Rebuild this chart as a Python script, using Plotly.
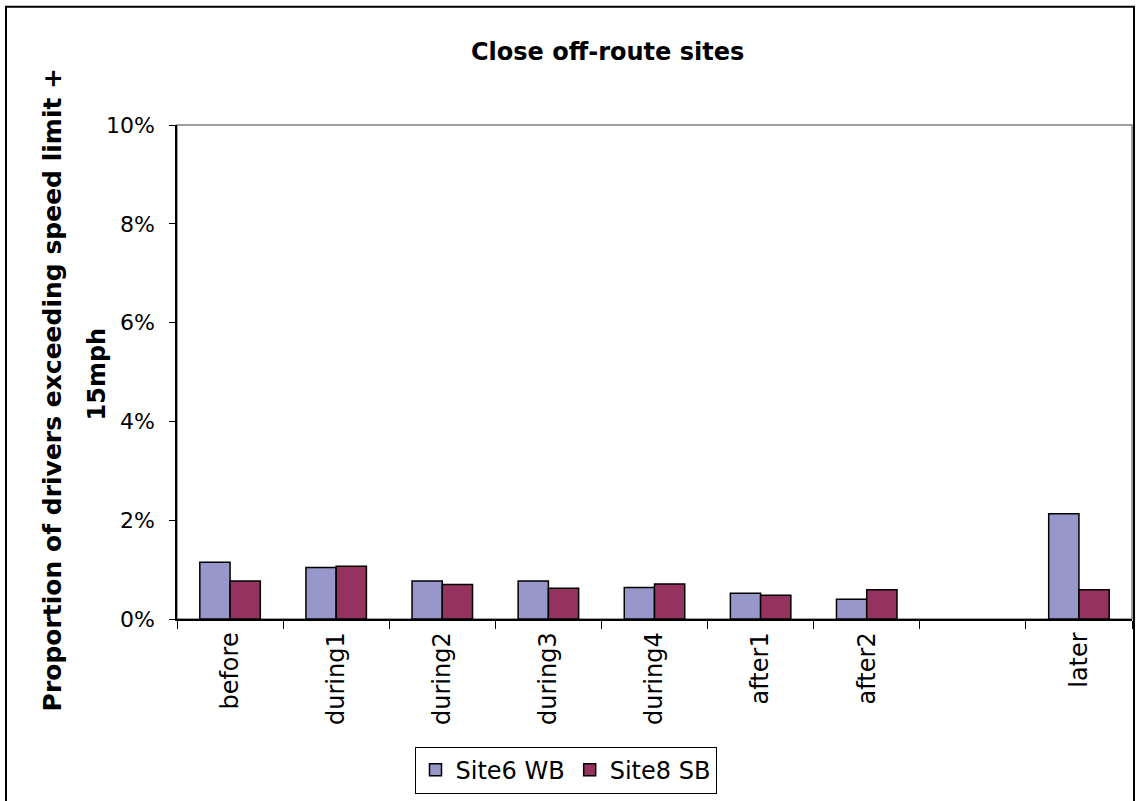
import plotly.graph_objects as go

# Survey periods (one blank slot before "later") and exceedance shares in %
periods = ["before", "during1", "during2", "during3", "during4", "after1", "after2", " ", "later"]
site6_wb = [1.15, 1.04, 0.77, 0.77, 0.64, 0.52, 0.40, None, 2.13]
site8_sb = [0.77, 1.07, 0.70, 0.62, 0.71, 0.48, 0.59, None, 0.59]
y_ticks = [0, 2, 4, 6, 8, 10]
y_tick_text = ["0%", "2%", "4%", "6%", "8%", "10%"]

W, H = 1140, 801
L, R, T, B = 177, 1132, 125, 622
FONT = "DejaVu Sans, Verdana, sans-serif"


def px_x(px):
    return (px - L) / (R - L)


def px_y(py):
    return (B - py) / (B - T)


fig = go.Figure()
fig.add_trace(go.Bar(
    name="Site6 WB", x=periods, y=site6_wb,
    marker=dict(color="#9797C9", line=dict(color="#000000", width=1.5)),
))
fig.add_trace(go.Bar(
    name="Site8 SB", x=periods, y=site8_sb,
    marker=dict(color="#943360", line=dict(color="#000000", width=1.5)),
))

fig.update_layout(
    width=W, height=H,
    margin=dict(l=L, r=W - R, t=T, b=H - B),
    paper_bgcolor="white", plot_bgcolor="white",
    barmode="group", bargap=0.43, bargroupgap=0,
    font=dict(family=FONT, color="#000000", size=22),
    showlegend=True,
    legend=dict(
        orientation="h", x=0.5 * (px_x(390) + px_x(741)), xanchor="center",
        y=px_y(774), yanchor="middle",
        bordercolor="#000000", borderwidth=1, bgcolor="white",
        font=dict(size=24), itemwidth=30, tracegroupgap=0,
    ),
    xaxis=dict(
        type="category", showgrid=False,
        showline=True, linecolor="#000000", linewidth=1.5,
        ticks="outside", tickson="boundaries", ticklen=8, tickcolor="#000000",
        tickangle=-90, tickfont=dict(size=24), ticklabelstandoff=2,
    ),
    yaxis=dict(
        range=[0, 10], tickvals=y_ticks, ticktext=y_tick_text,
        showgrid=False, zeroline=False,
        showline=True, linecolor="#000000", linewidth=1.5,
        ticks="outside", ticklen=6, tickcolor="#000000",
        tickfont=dict(size=22), ticklabelstandoff=10,
    ),
    shapes=[
        # plot area frame
        dict(type="rect", xref="paper", yref="paper", x0=0, x1=1, y0=0, y1=1,
             line=dict(color="#808080", width=1.5), layer="below"),
        # chart border
        dict(type="rect", xref="paper", yref="paper",
             x0=px_x(6), x1=px_x(1134), y0=px_y(812), y1=px_y(6),
             line=dict(color="#000000", width=2)),
    ],
    annotations=[
        dict(text="<b>Close off-route sites</b>", xref="paper", yref="paper",
             x=px_x(607), y=px_y(52), xanchor="center", yanchor="middle",
             showarrow=False, font=dict(size=24)),
        dict(text="<b>Proportion of drivers exceeding speed limit +</b>",
             xref="paper", yref="paper", x=px_x(52), y=px_y(392),
             xanchor="center", yanchor="middle", textangle=-90,
             showarrow=False, font=dict(size=25)),
        dict(text="<b>15mph</b>",
             xref="paper", yref="paper", x=px_x(97), y=px_y(376),
             xanchor="center", yanchor="middle", textangle=-90,
             showarrow=False, font=dict(size=24)),
    ],
)

fig.write_html("out.html")
